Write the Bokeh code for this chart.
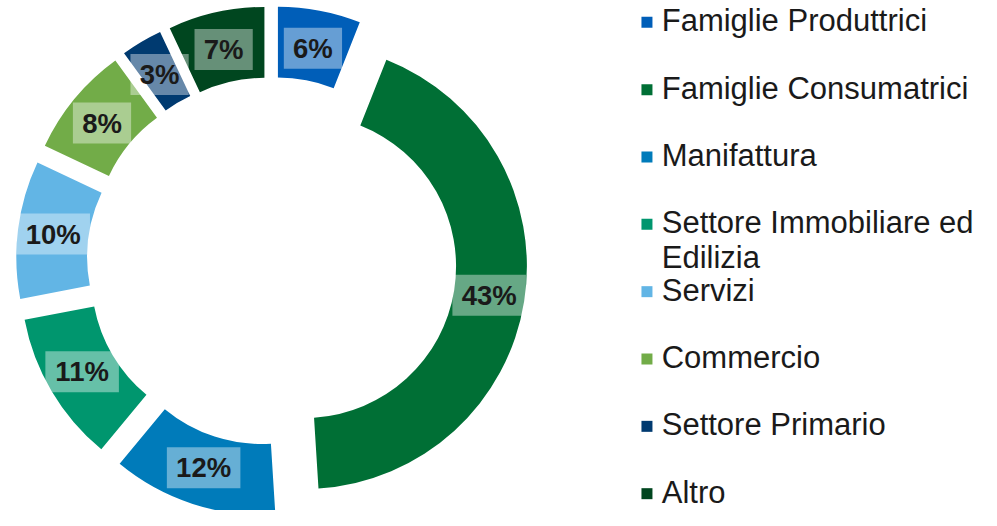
import math
from bokeh.plotting import figure
from bokeh.models import Range1d
from bokeh.core.properties import value
from bokeh.embed import file_html
from bokeh.resources import INLINE

# ---- data ----
categories = ["Famiglie Produttrici", "Famiglie Consumatrici", "Manifattura",
              "Settore Immobiliare ed\nEdilizia", "Servizi", "Commercio",
              "Settore Primario", "Altro"]
shares = [6, 43, 12, 11, 10, 8, 3, 7]
colors = ["#005EB8", "#006F35", "#007BBA", "#00966E", "#62B5E5", "#72AC48",
          "#003A70", "#00461F"]
labels = [f"{v}%" for v in shares]

# ---- layout ----
W, H = 981, 510
REF_W, REF_H = 997, 526
CX, CY = 275.6, 269.0
R_OUT, R_IN = 226.0, 154.0
EXPLODE = 33.8
R_LAB = (R_OUT + R_IN) / 2
FONT = "Liberation Sans"

p = figure(width=W, height=H, x_range=Range1d(0, REF_W), y_range=Range1d(-REF_H, 0),
           output_backend="svg", toolbar_location=None, min_border=0,
           x_axis_location=None, y_axis_location=None)
p.grid.visible = False
p.outline_line_color = None
p.background_fill_color = "white"

total = float(sum(shares))
cum = 0.0
wx, wy, sa, ea, lx, ly, bw = [], [], [], [], [], [], []
for v, lab in zip(shares, labels):
    t1 = 360.0 * cum / total
    t2 = 360.0 * (cum + v) / total
    cum += v
    m = math.radians((t1 + t2) / 2)
    x0 = CX + EXPLODE * math.sin(m)
    y0 = -CY + EXPLODE * math.cos(m)
    wx.append(x0)
    wy.append(y0)
    sa.append(math.radians(90 - t2))
    ea.append(math.radians(90 - t1))
    lx.append(x0 + R_LAB * math.sin(m))
    ly.append(y0 + R_LAB * math.cos(m))
    nd = len(lab) - 1
    bw.append(18.5 + 27.5 * (0.556 * nd + 0.889))

p.annular_wedge(x=wx, y=wy, inner_radius=R_IN, outer_radius=R_OUT,
                start_angle=sa, end_angle=ea, fill_color=colors, line_color=None)

p.rect(x=lx, y=ly, width=bw, height=41, width_units="screen", height_units="screen",
       fill_color="white", fill_alpha=0.4, line_color=None)
p.text(x=lx, y=ly, text=labels, text_align="center", text_baseline="middle",
       text_font=value(FONT), text_font_style="bold", text_font_size="27.5px",
       text_color="#1A1A1A")

# ---- legend ----
LEG_X_SQ, LEG_X_TXT = 657, 672
ROW0, ROW_STEP, LINE_STEP = 22.5, 69.45, 36.0
sq_x, sq_y, tx, ty, tt = [], [], [], [], []
for i, (cat, col) in enumerate(zip(categories, colors)):
    yc = ROW0 + ROW_STEP * i
    sq_x.append(LEG_X_SQ)
    sq_y.append(-yc)
    for j, line in enumerate(cat.split("\n")):
        tx.append(LEG_X_TXT)
        ty.append(-(yc - 1.5 + LINE_STEP * j))
        tt.append(line)

p.rect(x=sq_x, y=sq_y, width=11, height=11, width_units="screen", height_units="screen",
       fill_color=colors, line_color=None)
p.text(x=tx, y=ty, text=tt, text_align="left", text_baseline="middle",
       text_font=value(FONT), text_font_size="31px", text_color="#1A1A1A")

open("out.html", "w").write(file_html(p, INLINE))
